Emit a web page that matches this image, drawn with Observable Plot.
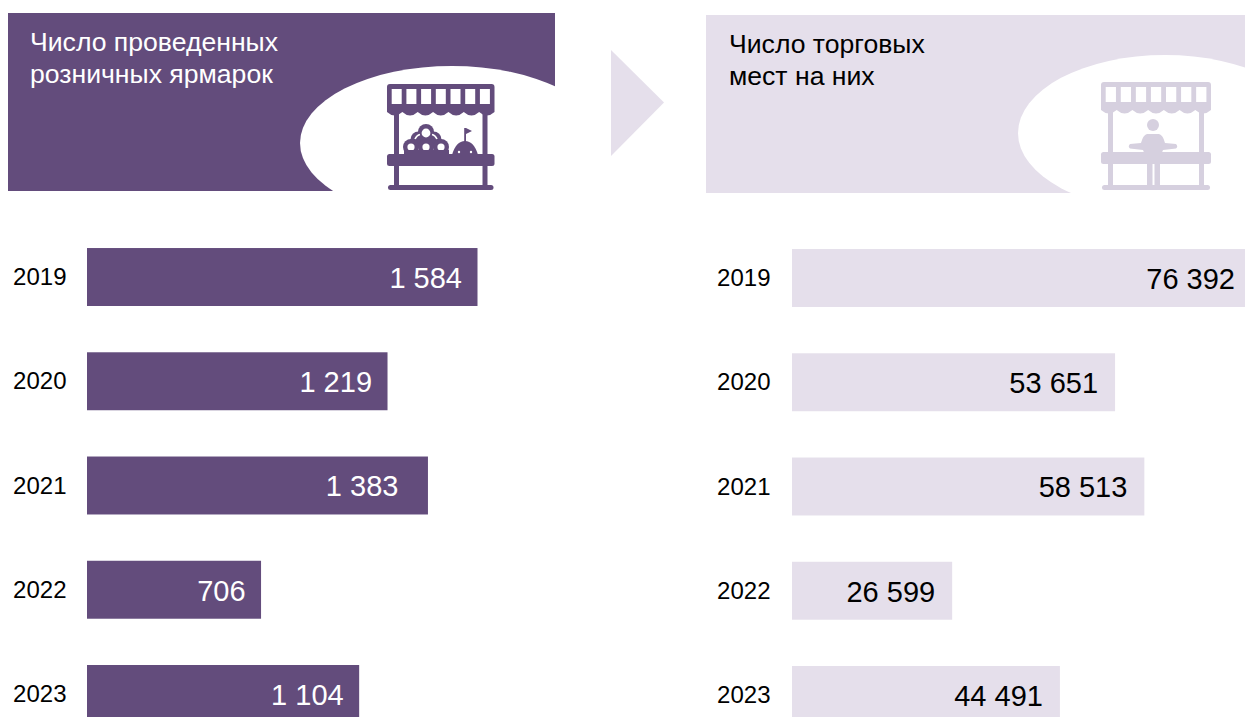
<!DOCTYPE html>
<html lang="ru">
<head>
<meta charset="utf-8">
<script src="https://cdn.jsdelivr.net/npm/d3@7"></script>
<script src="https://cdn.jsdelivr.net/npm/@observablehq/plot@0.6"></script>
<style>
html,body{margin:0;padding:0;background:#fff;}
#page{position:relative;width:1245px;height:717px;overflow:hidden;font-family:"Liberation Sans",Arial,sans-serif;}
#decor{position:absolute;left:0;top:0;}
.title{position:absolute;font-size:26.6px;line-height:32px;white-space:pre;}
.chart{position:absolute;top:0;}
.chart svg{display:block;max-width:none;}
</style>
</head>
<body>
<div id="page">
<svg id="decor" width="1245" height="717"></svg>
<div class="title" style="left:30px;top:26px;color:#fff">Число проведенных
розничных ярмарок</div>
<div class="title" style="left:729px;top:28px;color:#000">Число торговых
мест на них</div>
<div class="chart" id="left" style="left:0;width:600px"></div>
<div class="chart" id="right" style="left:700px;width:560px"></div>
</div>
<script>
const years = ["2019", "2020", "2021", "2022", "2023"];
const fairs = [1584, 1219, 1383, 706, 1104];
const places = [76392, 53651, 58513, 26599, 44491];

const dark = "#634c7c", light = "#e5dfeb", iconLight = "#d6d0df";
const spaced = d3.formatLocale({decimal: ",", thousands: " ", grouping: [3], currency: ["", ""]}).format(",d");

function barChart(values, {xRange, yRange, width, fill, textFill, tickPadding, inset, insetYear, yearInset}) {
  const rows = years.map((year, i) => ({year, value: values[i]}));
  const label = (dx, keep) => Plot.text(rows.filter(keep), {
    x: "value", y: "year", text: d => spaced(d.value), textAnchor: "end",
    dx, dy: 1, fill: textFill, fontSize: 29
  });
  return Plot.plot({
    width, height: 770,
    marginLeft: xRange[0], marginRight: 0, marginTop: 0, marginBottom: 0,
    style: {fontFamily: '"Liberation Sans", Arial, sans-serif', background: "transparent", overflow: "visible", maxWidth: "none"},
    x: {domain: [0, d3.max(values)], range: xRange, axis: null},
    y: {domain: years, range: yRange, padding: 0.444, round: false, axis: null},
    marks: [
      Plot.barX(rows, {x: "value", y: "year", fill}),
      Plot.axisY({tickSize: 0, tickPadding, fontSize: 24, fill: "#000", anchor: "left", label: null}),
      label(-inset, d => d.year !== insetYear),
      label(-yearInset, d => d.year === insetYear)
    ]
  });
}

document.getElementById("left").append(barChart(fairs, {
  width: 600, xRange: [87, 477.5], yRange: [201.75, 769.25], fill: dark, textFill: "#fff",
  tickPadding: 21, inset: 16, insetYear: "2021", yearInset: 30
}));
document.getElementById("right").append(barChart(places, {
  width: 560, xRange: [92, 552], yRange: [202.75, 770.25], fill: light, textFill: "#000",
  tickPadding: 22, inset: 17.5, insetYear: null, yearInset: 17.5
}));

/* Header decoration */
function awning(x0, x1, y0, y1) {
  const n = 7, w = (x1 - x0) / n;
  let d = `M${x0 + 3},${y0}H${x1 - 3}Q${x1},${y0} ${x1},${y0 + 3}V${y1 - 3}`;
  for (let i = 0; i < n; i++) d += `q${-w / 2},${7} ${-w},0`;
  return d + `V${y0 + 3}Q${x0},${y0} ${x0 + 3},${y0}Z`;
}
function stall(x0, x1, top, color, windowFill, postEnd) {
  const step = (x1 - x0 - 9.3) / 6.68;
  let s = `<path d="${awning(x0, x1, top, top + 31)}" fill="${color}"/>`;
  for (let i = 0; i < 7; i++) s += `<rect x="${x0 + 4.7 + i * step}" y="${top + 5}" width="${step * 0.68}" height="15" fill="${windowFill}"/>`;
  s += `<rect x="${x0 + 7}" y="${top + 28}" width="5" height="${postEnd - top - 28}" fill="${color}"/>`;
  s += `<rect x="${x1 - 12}" y="${top + 28}" width="5" height="${postEnd - top - 28}" fill="${color}"/>`;
  s += `<rect x="${x0}" y="${top + 70}" width="${x1 - x0}" height="12" rx="2.5" fill="${color}"/>`;
  s += `<rect x="${x0 + 1}" y="185" width="${x1 - x0 - 2}" height="5" rx="2.5" fill="${color}"/>`;
  return s;
}
let fruit = "";
[[426, 132], [418.5, 139.5], [433.5, 139.5], [411, 147], [426, 147], [441, 147]].forEach(([x, y]) => {
  fruit += `<circle cx="${x}" cy="${y}" r="8" fill="${dark}"/>`;
});
[[426, 133, 4.4], [411, 147, 3.6], [426, 147, 3.6], [441, 147, 3.6]].forEach(([x, y, r]) => {
  fruit += `<circle cx="${x}" cy="${y}" r="${r}" fill="#fff"/>`;
});
fruit += `<path d="M415,139Q417,135 420,134.5M437,139Q435,135 432,134.5" stroke="#fff" stroke-width="1.6" fill="none"/>`;
fruit += `<rect x="404" y="150" width="45" height="5" fill="${dark}"/>`;
fruit += `<path d="M452,155Q456,141 465,141Q474,141 478,155Z" fill="${dark}"/>`;
fruit += `<rect x="464.2" y="128" width="1.8" height="15" fill="${dark}"/>`;
fruit += `<path d="M466,128L472,131L466,134Z" fill="${dark}"/>`;
fruit += `<circle cx="459" cy="152" r="1.2" fill="#fff"/><circle cx="471" cy="152" r="1.2" fill="#fff"/>`;

const person = `<g fill="${iconLight}">
<circle cx="1153" cy="125" r="6"/>
<path d="M1147,134H1159Q1163,135 1165,143L1176,144Q1178.500,146.500 1176,148.500L1163,150L1161,155H1145L1143,150L1130,148.500Q1127.500,146.500 1130,144L1141,143Q1143,135 1147,134Z"/>
<rect x="1147" y="153" width="5.5" height="34"/>
<rect x="1154.5" y="153" width="5.5" height="34"/>
</g>`;

document.getElementById("decor").innerHTML = `
<defs>
<clipPath id="cl"><rect x="8" y="13" width="547" height="178"/></clipPath>
<clipPath id="cr"><rect x="706" y="15" width="539" height="178"/></clipPath>
</defs>
<rect x="8" y="13" width="547" height="178" fill="${dark}"/>
<ellipse cx="452" cy="143" rx="152" ry="77" fill="#fff" clip-path="url(#cl)"/>
${stall(387, 494.5, 84, dark, "#fff", 187)}
${fruit}
<path d="M611,50L664,102.5L611,156Z" fill="${light}"/>
<rect x="706" y="15" width="539" height="178" fill="${light}"/>
<ellipse cx="1165" cy="133" rx="147" ry="78" fill="#fff" clip-path="url(#cr)"/>
${stall(1101, 1211, 82, iconLight, "#fff", 187)}
${person}
`;
</script>
</body>
</html>
